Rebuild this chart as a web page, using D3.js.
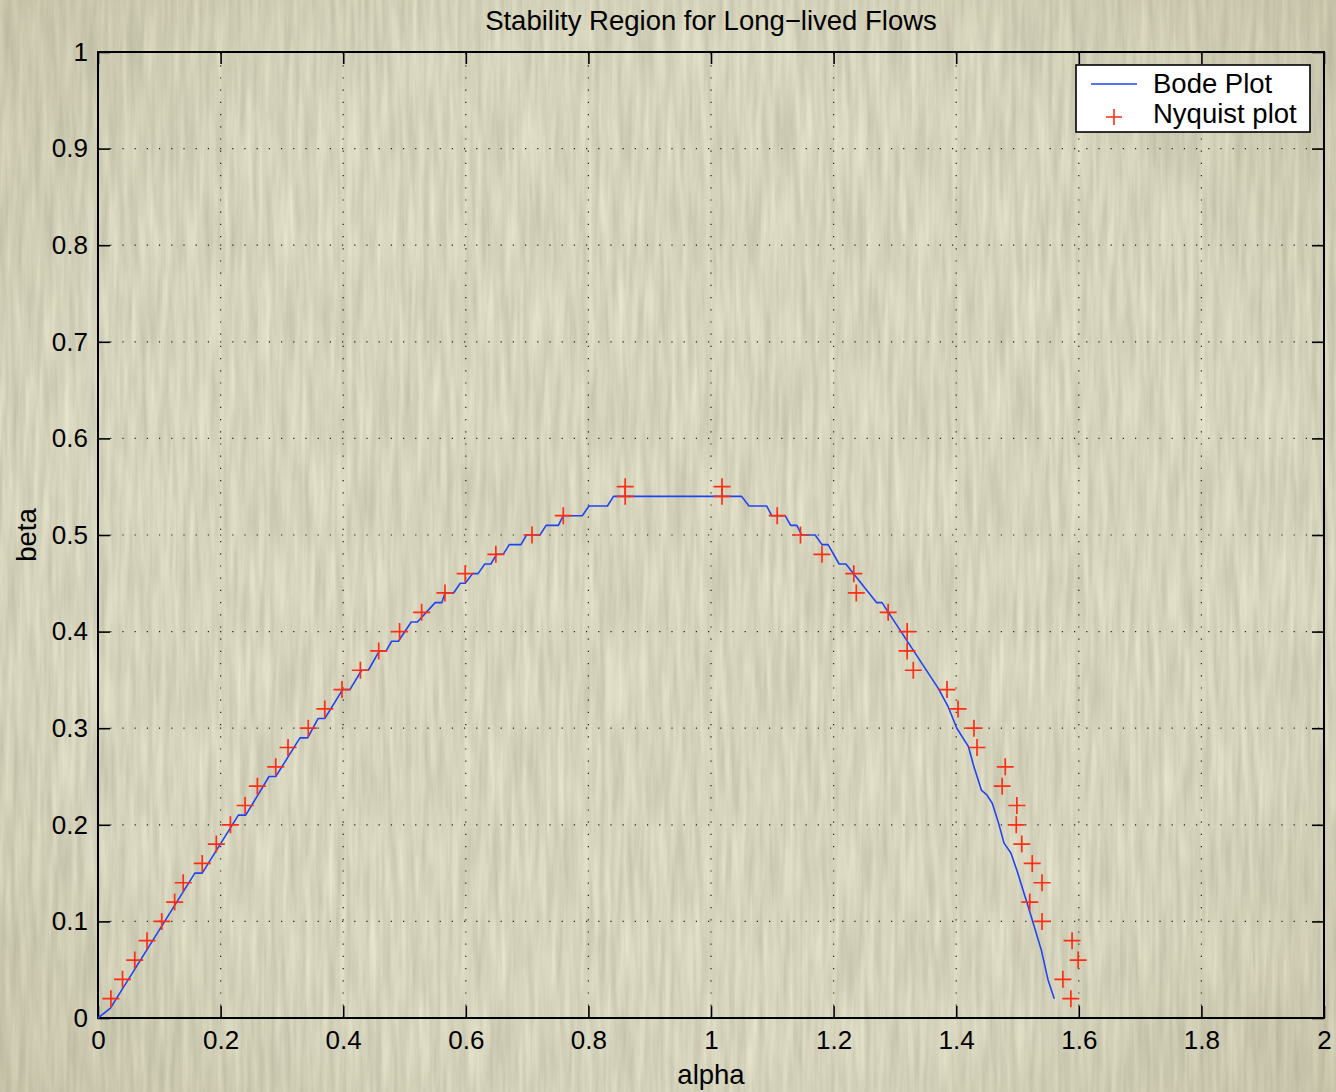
<!DOCTYPE html>
<html>
<head>
<meta charset="utf-8">
<script src="https://cdn.jsdelivr.net/npm/d3@7"></script>
<style>
  html, body { margin: 0; padding: 0; background: #d6d4bc; }
  svg { display: block; font-family: "Liberation Sans", Arial, Helvetica, sans-serif; }
</style>
</head>
<body>
<svg id="chart" width="1336" height="1092"></svg>
<script>
// ---------------- data ----------------
const titleText = "Stability Region for Long\u2212lived Flows";
const xLabel = "alpha";
const yLabel = "beta";
const seriesNames = ["Bode Plot", "Nyquist plot"];

const xTicks = [0, 0.2, 0.4, 0.6, 0.8, 1, 1.2, 1.4, 1.6, 1.8, 2];
const xTickLabels = ["0", "0.2", "0.4", "0.6", "0.8", "1", "1.2", "1.4", "1.6", "1.8", "2"];
const yTicks = [0, 0.1, 0.2, 0.3, 0.4, 0.5, 0.6, 0.7, 0.8, 0.9, 1];
const yTickLabels = ["0", "0.1", "0.2", "0.3", "0.4", "0.5", "0.6", "0.7", "0.8", "0.9", "1"];

// Bode plot boundary (staircase) vertices
const bodeAlpha = [0, 0.02, 0.158, 0.170, 0.229, 0.241, 0.279, 0.290, 0.3295, 0.342, 0.359, 0.370,
  0.399, 0.411, 0.430, 0.441, 0.459, 0.470, 0.479, 0.490, 0.511, 0.521, 0.550, 0.561, 0.566, 0.580,
  0.591, 0.599, 0.611, 0.620, 0.631, 0.641, 0.650, 0.661, 0.671, 0.690, 0.699, 0.721, 0.731, 0.751,
  0.759, 0.790, 0.801, 0.831, 0.841, 1.050, 1.062, 1.091, 1.099, 1.121, 1.130, 1.140, 1.148, 1.170,
  1.181, 1.191, 1.209, 1.220, 1.270, 1.279, 1.371, 1.387, 1.401, 1.420, 1.428, 1.433, 1.441, 1.450,
  1.459, 1.469, 1.478, 1.489, 1.499, 1.520, 1.539, 1.550, 1.560];
const bodeBeta = [0, 0.01, 0.15, 0.15, 0.21, 0.21, 0.25, 0.25, 0.29, 0.29, 0.31, 0.31,
  0.34, 0.34, 0.36, 0.36, 0.38, 0.38, 0.39, 0.39, 0.41, 0.41, 0.43, 0.43, 0.44, 0.44,
  0.45, 0.45, 0.46, 0.46, 0.47, 0.47, 0.48, 0.48, 0.49, 0.49, 0.50, 0.50, 0.51, 0.51,
  0.52, 0.52, 0.53, 0.53, 0.54, 0.54, 0.53, 0.53, 0.52, 0.52, 0.51, 0.51, 0.50, 0.50,
  0.49, 0.49, 0.47, 0.47, 0.43, 0.43, 0.341, 0.322, 0.300, 0.281, 0.262, 0.252, 0.236, 0.231,
  0.222, 0.202, 0.181, 0.171, 0.153, 0.110, 0.070, 0.039, 0.020];

// Nyquist plot points
const nyqAlpha = [0.021, 0.040, 0.060, 0.080, 0.104, 0.125, 0.139, 0.170, 0.193, 0.216, 0.240, 0.260,
  0.290, 0.310, 0.343, 0.370, 0.398, 0.428, 0.458, 0.492, 0.528, 0.566, 0.599, 0.649, 0.708, 0.759,
  0.860, 0.860, 1.018, 1.018, 1.108, 1.146, 1.181, 1.233, 1.237, 1.289, 1.320, 1.320, 1.330, 1.385,
  1.403, 1.429, 1.434, 1.480, 1.475, 1.499, 1.498, 1.507, 1.524, 1.540, 1.520, 1.540, 1.589, 1.599,
  1.574, 1.587];
const nyqBeta = [0.02, 0.04, 0.06, 0.08, 0.10, 0.12, 0.14, 0.16, 0.18, 0.20, 0.22, 0.24,
  0.26, 0.28, 0.30, 0.32, 0.34, 0.36, 0.38, 0.40, 0.42, 0.44, 0.46, 0.48, 0.50, 0.52,
  0.54, 0.55, 0.54, 0.55, 0.52, 0.50, 0.48, 0.46, 0.44, 0.42, 0.40, 0.38, 0.36, 0.34,
  0.32, 0.30, 0.28, 0.26, 0.24, 0.22, 0.20, 0.18, 0.16, 0.14, 0.12, 0.10, 0.08, 0.06,
  0.04, 0.02];

// ---------------- drawing ----------------
const W = 1336, H = 1092;
const margin = { left: 98, right: 12, top: 52, bottom: 74 };
const svg = d3.select("#chart");

// textured paper background
const defs = svg.append("defs");
const filt = defs.append("filter").attr("id", "paper")
  .attr("x", 0).attr("y", 0).attr("width", "100%").attr("height", "100%")
  .attr("color-interpolation-filters", "sRGB");
filt.append("feTurbulence").attr("type", "fractalNoise")
  .attr("baseFrequency", "0.17 0.011").attr("numOctaves", 3).attr("seed", 11).attr("result", "n");
filt.append("feColorMatrix").attr("type", "matrix")
  .attr("values", "0.17 0 0 0 0.755  0.17 0 0 0 0.745  0.16 0 0 0 0.66  0 0 0 0 1");
const vign = defs.append("radialGradient").attr("id", "vign")
  .attr("cx", "50%").attr("cy", "50%").attr("r", "75%");
vign.append("stop").attr("offset", "62%").attr("stop-color", "#8a8560").attr("stop-opacity", 0);
vign.append("stop").attr("offset", "100%").attr("stop-color", "#8a8560").attr("stop-opacity", 0.25);

svg.append("rect").attr("width", W).attr("height", H).attr("fill", "#d6d4bc");
svg.append("rect").attr("width", W).attr("height", H).attr("filter", "url(#paper)");
svg.append("rect").attr("width", W).attr("height", H).attr("fill", "url(#vign)");

const x = d3.scaleLinear().domain([0, 2]).range([margin.left, W - margin.right]);
const y = d3.scaleLinear().domain([0, 1]).range([H - margin.bottom, margin.top]);
const x0 = x.range()[0], x1 = x.range()[1], y0 = y.range()[0], y1 = y.range()[1];

// grid
const grid = svg.append("g").attr("stroke", "#222").attr("stroke-width", 1.2)
  .attr("stroke-dasharray", "1.2,11").attr("fill", "none");
grid.selectAll("line.gx").data(xTicks.slice(1, -1)).join("line").attr("class", "gx")
  .attr("x1", d => x(d)).attr("x2", d => x(d)).attr("y1", y0).attr("y2", y1);
grid.selectAll("line.gy").data(yTicks.slice(1, -1)).join("line").attr("class", "gy")
  .attr("y1", d => y(d)).attr("y2", d => y(d)).attr("x1", x0).attr("x2", x1);

// axes
const fontSize = 26;
function styleAxis(g) {
  g.select(".domain").remove();
  g.selectAll(".tick line").attr("stroke", "#000").attr("stroke-width", 1.6);
  g.selectAll(".tick text").attr("fill", "#000").attr("font-size", fontSize)
    .attr("font-family", "'Liberation Sans', Arial, Helvetica, sans-serif");
}
svg.append("g").attr("transform", `translate(0,${y0})`)
  .call(d3.axisBottom(x).tickValues(xTicks).tickSize(-12).tickPadding(13)
    .tickFormat((d, i) => xTickLabels[i])).call(styleAxis);
svg.append("g").attr("transform", `translate(${x0},0)`)
  .call(d3.axisLeft(y).tickValues(yTicks).tickSize(-12).tickPadding(10)
    .tickFormat((d, i) => yTickLabels[i])).call(styleAxis);
svg.append("g").attr("transform", `translate(0,${y1})`)
  .call(d3.axisTop(x).tickValues(xTicks).tickSize(-12).tickFormat("")).call(styleAxis);
svg.append("g").attr("transform", `translate(${x1},0)`)
  .call(d3.axisRight(y).tickValues(yTicks).tickSize(-12).tickFormat("")).call(styleAxis);

svg.append("rect").attr("x", x0).attr("y", y1).attr("width", x1 - x0).attr("height", y0 - y1)
  .attr("fill", "none").attr("stroke", "#000").attr("stroke-width", 2);

// Bode line
const bode = bodeAlpha.map((a, i) => [a, bodeBeta[i]]);
const blue = "#1f45f2", red = "#ff2d14";
svg.append("path").datum(bode)
  .attr("fill", "none").attr("stroke", blue).attr("stroke-width", 1.6)
  .attr("stroke-linejoin", "round")
  .attr("d", d3.line().x(d => x(d[0])).y(d => y(d[1])));

// Nyquist markers
const nyq = nyqAlpha.map((a, i) => [a, nyqBeta[i]]);
const mh = 8.5;
const mk = svg.append("g").attr("stroke", red).attr("stroke-width", 1.7);
mk.selectAll("path").data(nyq).join("path")
  .attr("d", d => `M${x(d[0]) - mh},${y(d[1])}H${x(d[0]) + mh}M${x(d[0])},${y(d[1]) - mh}V${y(d[1]) + mh}`);

// title and axis labels
const labelSize = 27.5;
svg.append("text").attr("x", (x0 + x1) / 2).attr("y", 30).attr("text-anchor", "middle")
  .attr("font-size", labelSize).attr("fill", "#000").text(titleText);
svg.append("text").attr("x", (x0 + x1) / 2).attr("y", 1084).attr("text-anchor", "middle")
  .attr("font-size", labelSize).attr("fill", "#000").text(xLabel);
svg.append("text").attr("transform", `translate(36,${(y0 + y1) / 2}) rotate(-90)`)
  .attr("text-anchor", "middle").attr("font-size", labelSize).attr("fill", "#000").text(yLabel);

// legend
const lg = svg.append("g").attr("transform", "translate(1076,65)");
lg.append("rect").attr("width", 234).attr("height", 67).attr("fill", "#fff")
  .attr("stroke", "#000").attr("stroke-width", 1.6);
lg.append("line").attr("x1", 15).attr("x2", 61).attr("y1", 19).attr("y2", 19)
  .attr("stroke", blue).attr("stroke-width", 1.6);
lg.append("path").attr("d", `M${38 - 8},52H${38 + 8}M38,${52 - 8}V${52 + 8}`)
  .attr("stroke", red).attr("stroke-width", 1.6);
lg.append("text").attr("x", 77).attr("y", 28).attr("font-size", labelSize).attr("fill", "#000").text(seriesNames[0]);
lg.append("text").attr("x", 77).attr("y", 58).attr("font-size", labelSize).attr("fill", "#000").text(seriesNames[1]);
</script>
</body>
</html>
